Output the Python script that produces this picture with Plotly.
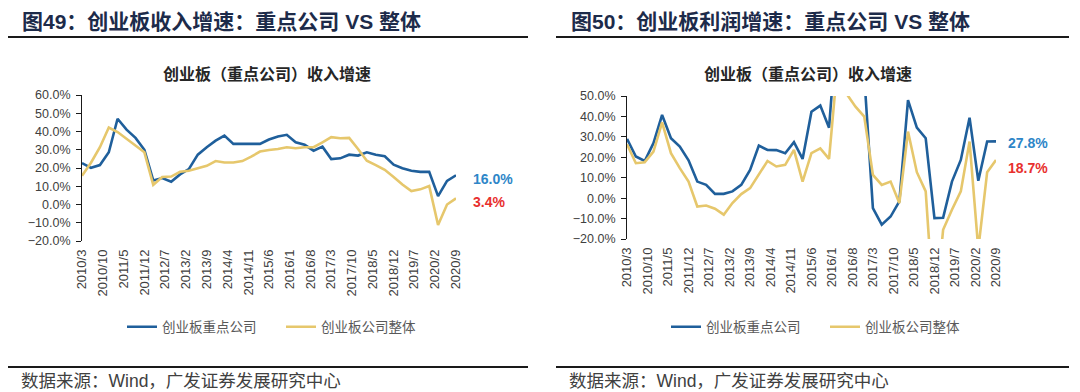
import plotly.graph_objects as go

W, H = 1080, 392

quarters = [
    "2010-03", "2010-06", "2010-09", "2010-12", "2011-03", "2011-06", "2011-09", "2011-12",
    "2012-03", "2012-06", "2012-09", "2012-12", "2013-03", "2013-06", "2013-09", "2013-12",
    "2014-03", "2014-06", "2014-09", "2014-12", "2015-03", "2015-06", "2015-09", "2015-12",
    "2016-03", "2016-06", "2016-09", "2016-12", "2017-03", "2017-06", "2017-09", "2017-12",
    "2018-03", "2018-06", "2018-09", "2018-12", "2019-03", "2019-06", "2019-09", "2019-12",
    "2020-03", "2020-06", "2020-09",
]

tick_labels = [
    "2010/3", "2010/10", "2011/5", "2011/12", "2012/7", "2013/2", "2013/9", "2014/4",
    "2014/11", "2015/6", "2016/1", "2016/8", "2017/3", "2017/10", "2018/5", "2018/12",
    "2019/7", "2020/2", "2020/9",
]

# 创业板收入增速 (%)
rev_key = [22.7, 20.1, 21.6, 28.6, 47.0, 41.0, 36.5, 30.0, 13.2, 14.5, 12.5, 16.5,
           19.4, 27.3, 31.4, 35.0, 37.8, 33.2, 33.2, 33.2, 33.2, 35.6, 37.3, 38.2,
           34.1, 32.7, 29.5, 31.7, 24.9, 25.3, 27.3, 26.8, 28.6, 27.3, 26.4, 21.8,
           19.9, 18.5, 17.9, 17.9, 4.6, 12.9, 16.0]
rev_all = [15.7, 22.9, 31.4, 42.2, 39.7, 36.0, 32.7, 28.6, 10.8, 15.1, 15.3, 17.9,
           18.5, 19.7, 21.2, 23.8, 23.0, 23.0, 23.8, 26.2, 29.0, 29.9, 30.4, 31.4,
           30.8, 31.4, 31.4, 34.1, 36.9, 36.3, 36.5, 30.4, 24.0, 21.6, 19.0, 15.1,
           11.0, 7.4, 8.3, 10.1, -11.2, 0.0, 3.4]

# 创业板利润增速 (%)
prof_key = [29.0, 20.4, 18.2, 26.9, 40.7, 29.3, 25.2, 18.5, 8.1, 6.5, 2.1, 2.1,
            3.3, 6.5, 13.8, 25.7, 23.6, 23.5, 22.0, 27.4, 19.2, 42.3, 45.3, 34.5,
            90.0, 150.0, 120.0, 60.0, -4.9, -13.0, -9.0, -1.6, 48.0, 34.5, 29.3, -9.8,
            -9.6, 8.1, 18.7, 39.4, 8.5, 27.7, 27.8]
prof_all = [26.4, 17.1, 17.6, 22.8, 37.1, 22.0, 14.7, 8.1, -4.1, -3.6, -5.2, -8.1,
            -2.4, 2.0, 4.9, 11.4, 18.2, 15.5, 16.3, 23.6, 8.1, 22.0, 24.4, 19.2,
            67.0, 51.0, 44.8, 39.9, 11.4, 6.5, 8.1, -2.4, 32.6, 12.7, 3.3, -60.0,
            -15.5, -5.7, 3.3, 27.7, -25.0, 12.7, 18.7]

series_names = ["创业板重点公司", "创业板公司整体"]
headers = ["图49：创业板收入增速：重点公司 VS 整体", "图50：创业板利润增速：重点公司 VS 整体"]
subtitle = "创业板（重点公司）收入增速"
source = "数据来源：Wind，广发证券发展研究中心"

BLUE = "#1F5F9B"
GOLD = "#E6C76C"
LBL_BLUE = "#2E86C8"
LBL_RED = "#E8302E"
NUM_FONT = "Liberation Sans, Arial, Noto Sans CJK SC"
CJK_FONT = "Noto Sans CJK SC"

x_dates = [q + "-01" for q in quarters]
tickvals = [f"{t.split('/')[0]}-{int(t.split('/')[1]):02d}-01" for t in tick_labels]
xrange_ = [x_dates[0], x_dates[-1]]


def px(p):
    return p / W


def py(p):
    return 1 - p / H


panels = [
    dict(key=rev_key, all=rev_all, x0=82, x1=456, ytop=95, ybot=241, yr=(-20, 60),
         legend="legend", header_x=20, sub_cx=267, src_x=19, lab_shift=15,
         key_yshift=-4, all_yshift=-4),
    dict(key=prof_key, all=prof_all, x0=627, x1=996, ytop=96, ybot=239, yr=(-20, 50),
         legend="legend2", header_x=569, sub_cx=808, src_x=567, lab_shift=10,
         key_yshift=-2, all_yshift=-8),
]

fig = go.Figure()
annotations = []
shapes = []
layout = {}

for i, p in enumerate(panels):
    n = i + 1
    xa = "x" if n == 1 else f"x{n}"
    ya = "y" if n == 1 else f"y{n}"
    ov = n + 2
    ydom = [py(p["ybot"]), py(p["ytop"])]
    xdom = [px(p["x0"]), px(p["x1"])]

    fig.add_trace(go.Scatter(x=x_dates, y=p["key"], mode="lines", name=series_names[0],
                             line=dict(color=BLUE, width=2.6), xaxis=xa, yaxis=ya,
                             legend=p["legend"]))
    fig.add_trace(go.Scatter(x=x_dates, y=p["all"], mode="lines", name=series_names[1],
                             line=dict(color=GOLD, width=2.6), xaxis=xa, yaxis=ya,
                             legend=p["legend"]))

    layout[f"xaxis{'' if n == 1 else n}"] = dict(
        type="date", domain=xdom, range=xrange_, anchor=ya,
        tickmode="array", tickvals=tickvals, ticktext=tick_labels, tickangle=-90,
        showline=False, ticks="", showgrid=False, zeroline=False, automargin=False,
        ticklabelstandoff=5,
        tickfont=dict(family=NUM_FONT, size=13, color="#404040"),
    )
    ymin, ymax = p["yr"]
    zero_pos = ydom[0] + (0 - ymin) / (ymax - ymin) * (ydom[1] - ydom[0])
    layout[f"xaxis{ov}"] = dict(
        type="date", overlaying=xa, anchor="free", position=zero_pos, range=xrange_,
        showline=True, linecolor="#1a1a1a", linewidth=1, ticks="outside", ticklen=5,
        tickcolor="#1a1a1a", tickwidth=1, tickmode="array", tickvals=tickvals,
        showticklabels=False, showgrid=False, zeroline=False, automargin=False,
    )
    layout[f"yaxis{'' if n == 1 else n}"] = dict(
        domain=ydom, range=[ymin, ymax], anchor=xa, dtick=10, tick0=0,
        tickformat=".1f", ticksuffix="%", showline=True, linecolor="#1a1a1a", linewidth=1,
        ticks="outside", ticklen=5, tickcolor="#1a1a1a", showgrid=False, zeroline=False,
        automargin=False, ticklabelstandoff=3,
        tickfont=dict(family=NUM_FONT, size=12.5, color="#404040"),
    )

    # headers
    annotations.append(dict(text=headers[i], x=px(p["header_x"]), y=py(21), xref="paper",
                            yref="paper", xanchor="left", yanchor="middle", showarrow=False,
                            font=dict(family=NUM_FONT, size=21, color="#1D2B4A", weight="bold")))
    annotations.append(dict(text=subtitle, x=px(p["sub_cx"]), y=py(73), xref="paper",
                            yref="paper", xanchor="center", yanchor="middle", showarrow=False,
                            font=dict(family=CJK_FONT, size=16, color="#262626", weight="bold")))
    annotations.append(dict(text=source, x=px(p["src_x"]), y=py(381), xref="paper",
                            yref="paper", xanchor="left", yanchor="middle", showarrow=False,
                            font=dict(family=NUM_FONT, size=17.5, color="#404040")))
    # end labels
    annotations.append(dict(text=f"{p['key'][-1]:.1f}%", x=x_dates[-1], y=p["key"][-1],
                            xref=xa, yref=ya, xanchor="left", yanchor="middle",
                            xshift=p["lab_shift"], yshift=p["key_yshift"], showarrow=False,
                            font=dict(family=NUM_FONT, size=14, color=LBL_BLUE, weight="bold")))
    annotations.append(dict(text=f"{p['all'][-1]:.1f}%", x=x_dates[-1], y=p["all"][-1],
                            xref=xa, yref=ya, xanchor="left", yanchor="middle",
                            xshift=p["lab_shift"], yshift=p["all_yshift"], showarrow=False,
                            font=dict(family=NUM_FONT, size=14, color=LBL_RED, weight="bold")))

# decorative rules
shapes += [
    dict(type="line", xref="paper", yref="paper", x0=px(8), x1=px(528), y0=py(37), y1=py(37),
         line=dict(color="#1a1a1a", width=2)),
    dict(type="line", xref="paper", yref="paper", x0=px(556), x1=px(1069), y0=py(37), y1=py(37),
         line=dict(color="#1a1a1a", width=2)),
    dict(type="line", xref="paper", yref="paper", x0=px(8), x1=px(528), y0=py(367), y1=py(367),
         line=dict(color="#1a1a1a", width=2)),
    dict(type="line", xref="paper", yref="paper", x0=px(556), x1=px(1069), y0=py(367), y1=py(367),
         line=dict(color="#1a1a1a", width=2)),
]

legend_style = dict(orientation="h", xanchor="left", yanchor="middle", entrywidth=114,
                    bgcolor="rgba(0,0,0,0)", font=dict(family=CJK_FONT, size=13.5, color="#595959"),
                    itemwidth=30, tracegroupgap=0)

layout["legend"] = dict(x=px(122), y=py(327), **legend_style)
layout["legend2"] = dict(x=px(666), y=py(327), **legend_style)

fig.update_layout(
    width=W, height=H, autosize=False,
    margin=dict(l=0, r=0, t=0, b=0, autoexpand=False),
    paper_bgcolor="white", plot_bgcolor="white",
    annotations=annotations, shapes=shapes,
    showlegend=True,
    **layout,
)

fig.write_html(
    "out.html",
    config={"displayModeBar": False},
    post_script="document.body.style.margin='0px';document.documentElement.style.overflow='hidden';",
)
